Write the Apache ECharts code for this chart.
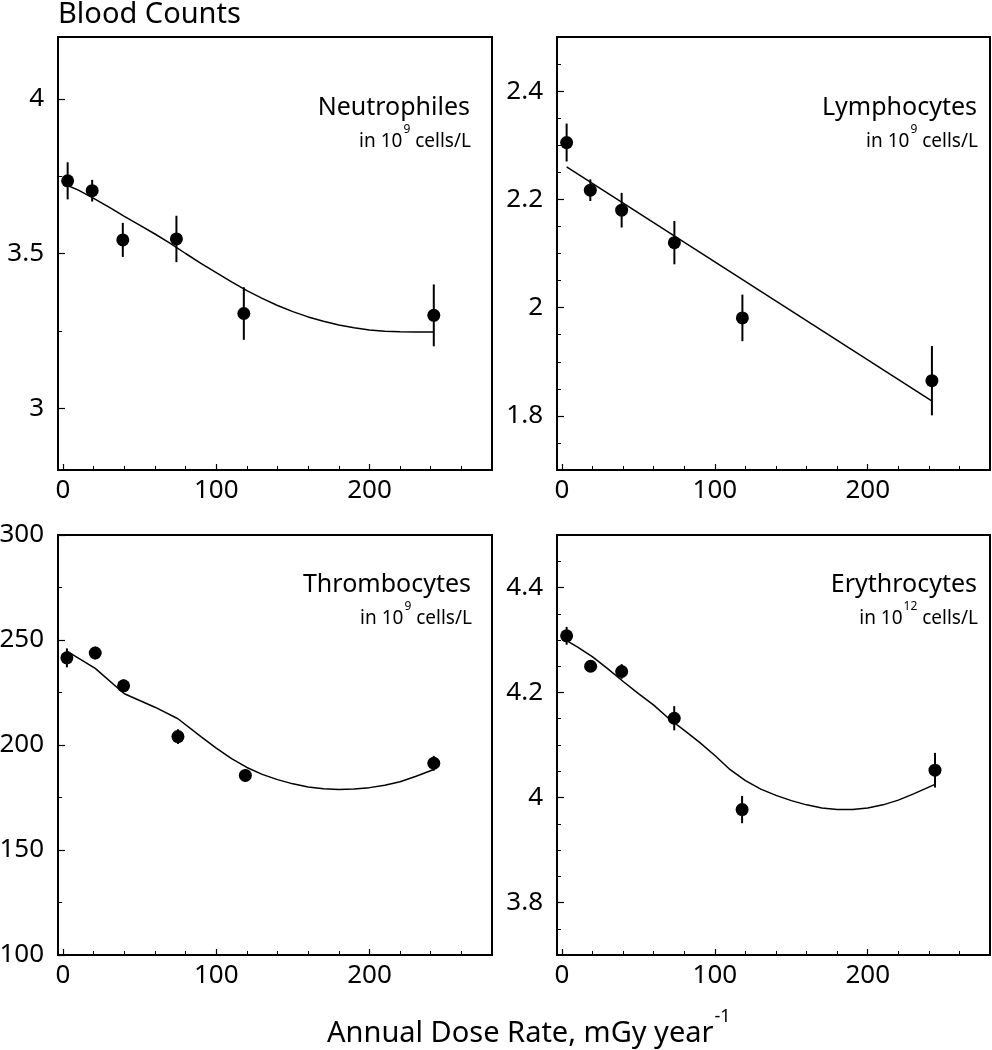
<!DOCTYPE html>
<html>
<head>
<meta charset="utf-8">
<script src="https://cdn.jsdelivr.net/npm/echarts@6/dist/echarts.min.js"></script>
<style>
html,body{margin:0;padding:0;background:#fff;}
#chart{width:992px;height:1050px;}
</style>
</head>
<body>
<div id="chart"></div>
<script>
// ---------- DATA ----------
const panelNames = ['Neutrophiles', 'Lymphocytes', 'Thrombocytes', 'Erythrocytes'];
const unitExponents = ['9', '9', '9', '12'];

// Neutrophiles
const doseNeu = [3, 19, 39, 74, 118, 242];
const valNeu  = [3.735, 3.703, 3.544, 3.547, 3.306, 3.300];
const errNeu  = [0.060, 0.035, 0.055, 0.075, 0.085, 0.100];
const fitXNeu = [3, 10, 20, 30, 40, 50, 60, 70, 80, 90, 100, 110, 120, 130, 140, 150, 160, 170, 180, 190, 200, 210, 220, 230, 242];
const fitYNeu = [3.72, 3.705, 3.678, 3.65, 3.62, 3.592, 3.563, 3.533, 3.50, 3.468, 3.438, 3.408, 3.38, 3.355, 3.332, 3.312, 3.295, 3.281, 3.269, 3.26, 3.253, 3.249, 3.247, 3.246, 3.246];

// Lymphocytes
const doseLym = [3, 18.5, 39, 73.5, 118, 242];
const valLym  = [2.305, 2.217, 2.180, 2.120, 1.981, 1.865];
const errLym  = [0.035, 0.020, 0.032, 0.040, 0.043, 0.064];
const fitXLym = [3, 241.6];
const fitYLym = [2.26, 1.828];

// Thrombocytes
const doseThr = [2.5, 21, 39.5, 75, 119, 242];
const valThr  = [241.5, 243.8, 228.2, 204.0, 185.5, 191.3];
const errThr  = [4.5, 3.0, 3.0, 3.5, 3.0, 3.5];
const fitXThr = [2.5, 21, 40, 60, 75, 90, 100, 110, 120, 130, 140, 150, 160, 170, 180, 190, 200, 210, 220, 230, 242];
const fitYThr = [244.7, 236.5, 224.4, 218.0, 212.5, 204.0, 198.5, 193.5, 189.3, 186.0, 183.5, 181.5, 180.0, 179.2, 178.8, 179.0, 179.7, 180.8, 182.5, 185.0, 188.3];

// Erythrocytes
const doseEry = [3, 18.7, 39, 73.4, 117.8, 244];
const valEry  = [4.308, 4.250, 4.240, 4.151, 3.977, 4.052];
const errEry  = [0.017, 0.008, 0.014, 0.023, 0.026, 0.033];
const fitXEry = [3, 10, 20, 30, 40, 50, 60, 70, 80, 90, 100, 110, 120, 130, 140, 150, 160, 170, 180, 190, 200, 210, 220, 230, 244];
const fitYEry = [4.299, 4.287, 4.268, 4.245, 4.221, 4.198, 4.176, 4.150, 4.128, 4.105, 4.080, 4.053, 4.032, 4.016, 4.004, 3.994, 3.986, 3.980, 3.977, 3.977, 3.980, 3.986, 3.995, 4.007, 4.025];

// Axis ticks / labels
const xLabelValues = [0, 100, 200];
const xMinorValues = [20, 40, 60, 80, 120, 140, 160, 180, 220, 240, 260];
const yLabelNeu = [3, 3.5, 4];           const yMinorNeu = [3.25, 3.75];
const yLabelLym = [1.8, 2, 2.2, 2.4];    const yMinorLym = [1.75, 1.85, 1.9, 1.95, 2.05, 2.1, 2.15, 2.25, 2.3, 2.35, 2.45];
const yLabelThr = [100, 150, 200, 250, 300]; const yMinorThr = [125, 175, 225, 275];
const yLabelEry = [3.8, 4, 4.2, 4.4];    const yMinorEry = [3.75, 3.85, 3.9, 3.95, 4.05, 4.1, 4.15, 4.25, 4.3, 4.35, 4.45];

const figureTitle = 'Blood Counts';
const xAxisTitle = 'Annual Dose Rate, mGy year';
const xAxisTitleSup = '-1';

// ---------- BUILD ----------
const FONT = '"Noto Sans", "DejaVu Sans", sans-serif';
const panels = [
  {dose: doseNeu, val: valNeu, err: errNeu, fx: fitXNeu, fy: fitYNeu, yl: yLabelNeu, ym: yMinorNeu, ymin: 2.8, ymax: 4.2},
  {dose: doseLym, val: valLym, err: errLym, fx: fitXLym, fy: fitYLym, yl: yLabelLym, ym: yMinorLym, ymin: 1.7, ymax: 2.5},
  {dose: doseThr, val: valThr, err: errThr, fx: fitXThr, fy: fitYThr, yl: yLabelThr, ym: yMinorThr, ymin: 100, ymax: 300},
  {dose: doseEry, val: valEry, err: errEry, fx: fitXEry, fy: fitYEry, yl: yLabelEry, ym: yMinorEry, ymin: 3.7, ymax: 4.5}
];
const grids = [
  {left: 58, top: 37, width: 434, height: 433},
  {left: 557, top: 37, width: 433, height: 433},
  {left: 58, top: 535, width: 434, height: 420},
  {left: 557, top: 535, width: 433, height: 420}
];
const XMIN = -3.3, XMAX = 280;

const option = {
  animation: false,
  backgroundColor: '#fff',
  grid: grids.map(g => Object.assign({show: true, borderColor: '#000', borderWidth: 2, backgroundColor: 'transparent', containLabel: false, outerBoundsMode: 'none'}, g)),
  xAxis: [],
  yAxis: [],
  series: [],
  graphic: []
};

const noLine = {show: false, onZero: false};
panels.forEach((p, i) => {
  option.xAxis.push({
    type: 'value', gridIndex: i, min: XMIN, max: XMAX, position: 'bottom',
    axisLine: noLine, splitLine: {show: false},
    axisTick: {show: true, inside: true, length: 6, lineStyle: {color: '#000', width: 1.2}, customValues: xLabelValues},
    axisLabel: {show: true, customValues: xLabelValues, color: '#000', fontSize: 26, fontFamily: FONT, margin: 8}
  });
  option.xAxis.push({
    type: 'value', gridIndex: i, min: XMIN, max: XMAX, position: 'bottom',
    axisLine: noLine, splitLine: {show: false},
    axisTick: {show: true, inside: true, length: 4, lineStyle: {color: '#000', width: 1}, customValues: xMinorValues},
    axisLabel: {show: false}
  });
  option.yAxis.push({
    type: 'value', gridIndex: i, min: p.ymin, max: p.ymax, position: 'left',
    axisLine: noLine, splitLine: {show: false},
    axisTick: {show: true, inside: true, length: 7, lineStyle: {color: '#000', width: 1.2}, customValues: p.yl},
    axisLabel: {show: true, customValues: p.yl, color: '#000', fontSize: 26, fontFamily: FONT, margin: 14}
  });
  option.yAxis.push({
    type: 'value', gridIndex: i, min: p.ymin, max: p.ymax, position: 'left',
    axisLine: noLine, splitLine: {show: false},
    axisTick: {show: true, inside: true, length: 4, lineStyle: {color: '#000', width: 1}, customValues: p.ym},
    axisLabel: {show: false}
  });
  const xi = i * 2, yi = i * 2;
  option.series.push({
    type: 'custom', xAxisIndex: xi, yAxisIndex: yi, z: 1,
    data: p.dose.map((d, k) => [d, p.val[k], p.err[k]]),
    encode: {x: 0, y: 1},
    renderItem: (params, api) => {
      const x = api.value(0), y = api.value(1), e = api.value(2);
      const a = api.coord([x, y - e]);
      const b = api.coord([x, y + e]);
      return {type: 'line', shape: {x1: a[0], y1: a[1], x2: b[0], y2: b[1]}, style: {stroke: '#000', lineWidth: 2}};
    }
  });
  option.series.push({
    type: 'line', xAxisIndex: xi, yAxisIndex: yi, z: 2,
    data: p.fx.map((x, k) => [x, p.fy[k]]),
    smooth: false, showSymbol: false, symbol: 'none',
    lineStyle: {color: '#000', width: 1.5}
  });
  option.series.push({
    type: 'scatter', xAxisIndex: xi, yAxisIndex: yi, z: 3,
    data: p.dose.map((d, k) => [d, p.val[k]]),
    symbol: 'circle', symbolSize: 13,
    itemStyle: {color: '#000', opacity: 1}
  });
});

// annotation texts
const annot = [
  {x: 470, y: 115}, {x: 977, y: 115}, {x: 471, y: 592}, {x: 977, y: 592}
];
annot.forEach((a, i) => {
  option.graphic.push({
    type: 'text', x: a.x, y: a.y - 7, z: 10,
    style: {text: panelNames[i], font: '25px ' + FONT, fill: '#000', align: 'right', textAlign: 'right', verticalAlign: 'middle', textVerticalAlign: 'middle'}
  });
  option.graphic.push({
    type: 'text', x: a.x + 1, y: a.y + 36, z: 10,
    style: {
      text: '{n|in 10}{s|' + unitExponents[i] + '}{n| cells/L}',
      align: 'right', textAlign: 'right', verticalAlign: 'bottom', textVerticalAlign: 'bottom',
      rich: {
        n: {fontSize: 19, fontFamily: FONT, color: '#000', fill: '#000', verticalAlign: 'bottom', lineHeight: 27},
        s: {fontSize: 12, fontFamily: FONT, color: '#000', fill: '#000', verticalAlign: 'top', lineHeight: 27, padding: [0, 0, 0, 1]}
      }
    }
  });
});

option.graphic.push({
  type: 'text', x: 58, y: 15, z: 10,
  style: {text: figureTitle, font: '29px ' + FONT, fill: '#000', align: 'left', textAlign: 'left', verticalAlign: 'middle', textVerticalAlign: 'middle'}
});
option.graphic.push({
  type: 'text', x: 327, y: 1048, z: 10,
  style: {
    text: '{n|' + xAxisTitle + '}{s|' + xAxisTitleSup + '}',
    align: 'left', textAlign: 'left', verticalAlign: 'bottom', textVerticalAlign: 'bottom',
    rich: {
      n: {fontSize: 29, fontFamily: FONT, color: '#000', fill: '#000', verticalAlign: 'bottom', lineHeight: 40},
      s: {fontSize: 18, fontFamily: FONT, color: '#000', fill: '#000', verticalAlign: 'top', lineHeight: 40, padding: [0, 0, 0, 1]}
    }
  }
});

const chart = echarts.init(document.getElementById('chart'), null, {renderer: 'canvas'});
chart.setOption(option);
</script>
</body>
</html>
